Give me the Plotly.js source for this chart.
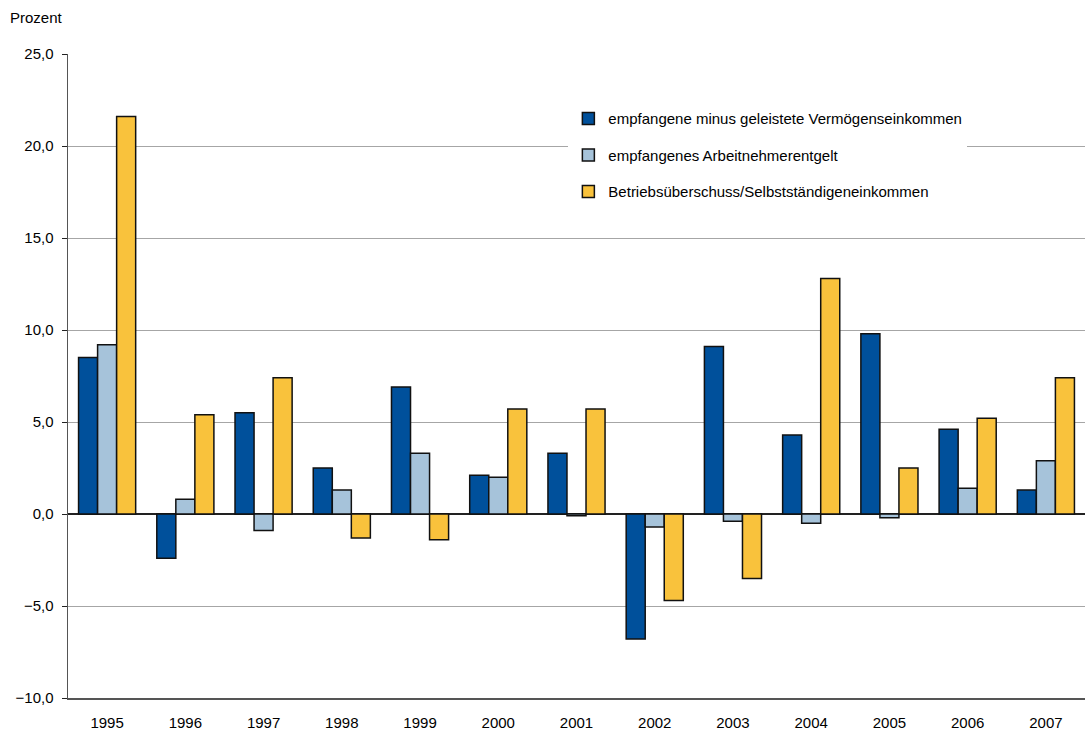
<!DOCTYPE html>
<html><head><meta charset="utf-8">
<script src="https://cdn.plot.ly/plotly-3.0.1.min.js"></script>
<style>html,body{margin:0;padding:0;background:#fff}</style>
</head><body>
<div id="chart" style="width:1086px;height:733px"></div>
<script>
const years = ['1995','1996','1997','1998','1999','2000','2001','2002','2003','2004','2005','2006','2007'];
const vermoegen = [8.5,-2.4,5.5,2.5,6.9,2.1,3.3,-6.8,9.1,4.3,9.8,4.6,1.3];
const arbeitnehmer = [9.2,0.8,-0.9,1.3,3.3,2.0,-0.1,-0.7,-0.4,-0.5,-0.2,1.4,2.9];
const betrieb = [21.6,5.4,7.4,-1.3,-1.4,5.7,5.7,-4.7,-3.5,12.8,2.5,5.2,7.4];
const names = ['empfangene minus geleistete Vermögenseinkommen','empfangenes Arbeitnehmerentgelt','Betriebsüberschuss/Selbstständigeneinkommen'];
const colors = ['#00509B','#A6C3DA','#F9C23C'];
const yMin = -10, yMax = 25;

const series = [vermoegen, arbeitnehmer, betrieb];
const traces = series.map((v,i)=>({
  type:'bar', x: years, y: v, name: names[i], legendgroup: 'g'+i,
  marker:{color: colors[i], line:{color:'#111', width:1.5}},
  hoverinfo:'x+y'
}));

const ff = '"Liberation Sans", Arial, sans-serif';
const layout = {
  width:1086, height:733,
  margin:{l:68, r:1, t:54, b:35},
  paper_bgcolor:'#fff', plot_bgcolor:'#fff',
  font: {family:ff, size:15, color:'#000'},
  separators: ',.',
  barmode:'group', bargap:0.27, bargroupgap:0,
  showlegend:true,
  legend:{x:0.492, y:0.925, xanchor:'left', yanchor:'top', bgcolor:'#fff',
    font:{family:ff, size:15, color:'#000'}, traceorder:'grouped', tracegroupgap:14,
    itemwidth:30},
  xaxis:{type:'category', showgrid:false, zeroline:false, showline:true, linecolor:'#555', linewidth:1.5,
    ticks:'', ticklabelstandoff:10, tickfont:{family:ff,size:15,color:'#000'}},
  xaxis2:{overlaying:'x', anchor:'free', position:(0-yMin)/(yMax-yMin), side:'bottom', range:[-0.5, years.length-0.5],
    tick0:0.5, dtick:1, ticks:'outside', ticklen:5, tickcolor:'#222', tickwidth:1.2, showticklabels:false,
    showgrid:false, zeroline:false, showline:false},
  yaxis:{range:[yMin,yMax], dtick:5, tickformat:'.1f', showgrid:true, gridcolor:'#a6a6a6', gridwidth:1,
    zeroline:true, zerolinecolor:'#222', zerolinewidth:1.5, showline:true, linecolor:'#555', linewidth:1.5,
    ticks:'outside', ticklen:5, tickcolor:'#222', ticklabelstandoff:5, tickfont:{family:ff,size:15,color:'#000'}},
  annotations:[{text:'Prozent', xref:'paper', yref:'paper', x:-0.059, y:1.056, xanchor:'left', yanchor:'middle', showarrow:false,
    font:{family:ff,size:15,color:'#000'}}]
};
Plotly.newPlot('chart', traces, layout, {displayModeBar:false, staticPlot:true});
</script>
</body></html>
